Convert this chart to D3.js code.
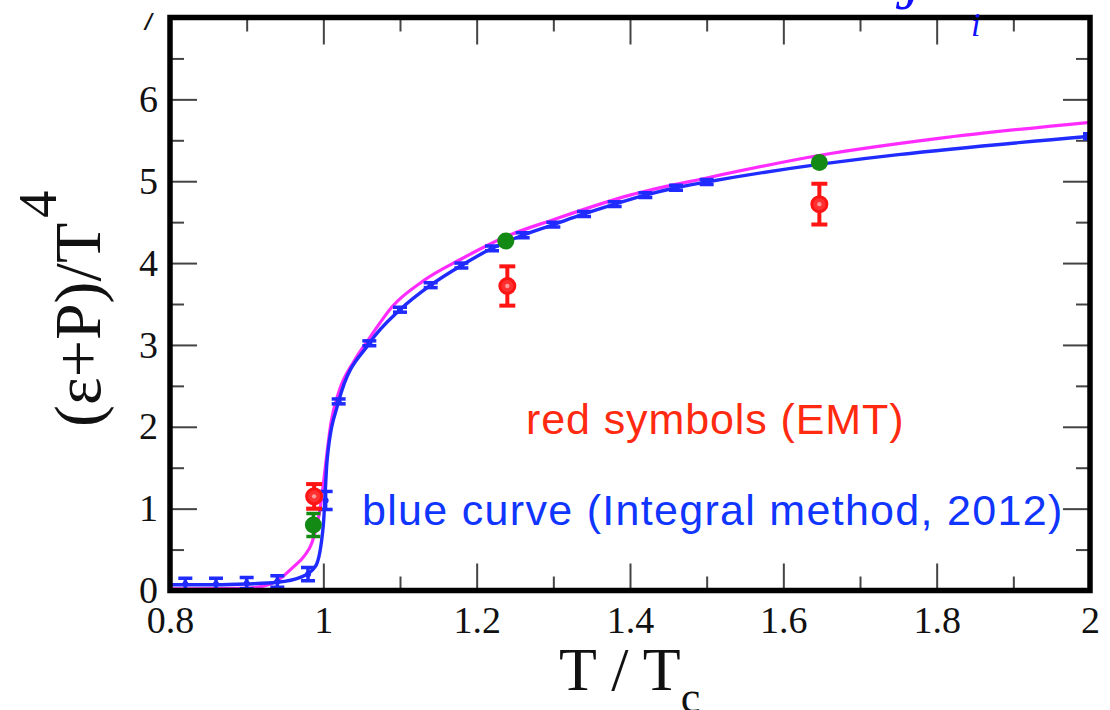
<!DOCTYPE html>
<html>
<head>
<meta charset="utf-8">
<script src="https://cdn.jsdelivr.net/npm/d3@7"></script>
<style>
  html, body { margin: 0; padding: 0; background: #fff; }
  svg { display: block; }
</style>
</head>
<body>
<script>
// --- data ---
// blue curve (Integral method, 2012) points with small error bars
var blueT   = [0.82, 0.86, 0.90, 0.94, 0.98, 1.003, 1.02, 1.06, 1.10, 1.14, 1.18, 1.22, 1.26, 1.30, 1.34, 1.38, 1.42, 1.46, 1.50, 2.00];
var blueVal = [0.08, 0.08, 0.09, 0.11, 0.20, 1.10, 2.31, 3.02, 3.43, 3.73, 3.97, 4.18, 4.34, 4.47, 4.60, 4.72, 4.83, 4.92, 4.99, 5.55];
var blueErr = [0.07, 0.07, 0.07, 0.07, 0.08, 0.11, 0.03, 0.03, 0.03, 0.03, 0.03, 0.03, 0.03, 0.03, 0.03, 0.03, 0.03, 0.03, 0.03, 0.03];
// line through the blue points
var blueLineT   = [0.80, 0.82, 0.86, 0.90, 0.94, 0.97, 0.99, 1.00, 1.005, 1.02, 1.06, 1.10, 1.14, 1.18, 1.22, 1.26, 1.30, 1.34, 1.38, 1.42, 1.46, 1.50, 2.00];
var blueLineVal = [0.07, 0.07, 0.07, 0.08, 0.10, 0.16, 0.30, 0.80, 1.60, 2.31, 3.02, 3.43, 3.73, 3.97, 4.18, 4.34, 4.47, 4.60, 4.72, 4.83, 4.92, 4.99, 5.55];
// magenta curve
var magT   = [0.80, 0.90, 0.92, 0.94, 0.96, 0.975, 0.985, 0.995, 1.000, 1.005, 1.010, 1.02, 1.04, 1.06, 1.09, 1.13, 1.18, 1.24, 1.30, 1.40, 1.50, 1.65, 1.80, 2.00];
var magVal = [0.02, 0.03, 0.05, 0.12, 0.28, 0.42, 0.58, 0.95, 1.30, 1.70, 2.05, 2.42, 2.80, 3.08, 3.47, 3.78, 4.05, 4.33, 4.53, 4.83, 5.04, 5.32, 5.52, 5.72];
// green symbols
var greenT   = [0.987, 1.238, 1.647];
var greenVal = [0.80, 4.27, 5.23];
var greenErr = [0.14, 0.03, 0.03];
// red symbols (EMT)
var redT   = [0.988, 1.240, 1.647];
var redVal = [1.15, 3.72, 4.72];
var redErr = [0.15, 0.24, 0.25];

var xMajor = [0.8, 1.0, 1.2, 1.4, 1.6, 1.8, 2.0];
var xMinor = [0.9, 1.1, 1.3, 1.5, 1.7, 1.9];
var xLabels = ["0.8", "1", "1.2", "1.4", "1.6", "1.8", "2"];
var yMajor = [0, 1, 2, 3, 4, 5, 6, 7];
var yMinor = [0.5, 1.5, 2.5, 3.5, 4.5, 5.5, 6.5];

var width = 1110, height = 710;
var plot = {left: 170, right: 1090, top: 17.5, bottom: 590.5};

var x = d3.scaleLinear().domain([0.8, 2.0]).range([plot.left, plot.right]);
var y = d3.scaleLinear().domain([0, 7]).range([plot.bottom, plot.top]);

var svg = d3.select("body").append("svg")
    .attr("width", width)
    .attr("height", height);

var serif = "'Liberation Serif', 'Times New Roman', serif";
var sans = "'Liberation Sans', Arial, Helvetica, sans-serif";

// the very top of the picture is cut off on the left side
svg.append("clipPath").attr("id", "topcut")
  .append("rect")
    .attr("x", 0).attr("y", 13)
    .attr("width", width).attr("height", height);

// ticks (inward on all four sides)
function styleAxis(g) {
  g.select(".domain").remove();
  g.selectAll(".tick line").attr("stroke", "#444").attr("stroke-width", 2);
  g.selectAll("text")
    .attr("fill", "#111")
    .style("font-family", serif)
    .style("font-size", "38px");
}

svg.append("g")
    .attr("transform", "translate(0," + plot.bottom + ")")
    .call(d3.axisBottom(x).tickValues(xMajor).tickSize(-27).tickPadding(16)
      .tickFormat(function(d, i) { return xLabels[i]; }))
    .call(styleAxis);
svg.append("g")
    .attr("transform", "translate(0," + plot.bottom + ")")
    .call(d3.axisBottom(x).tickValues(xMinor).tickSize(-14).tickFormat(""))
    .call(styleAxis);
svg.append("g")
    .attr("transform", "translate(0," + plot.top + ")")
    .call(d3.axisTop(x).tickValues(xMajor).tickSize(-27).tickFormat(""))
    .call(styleAxis);
svg.append("g")
    .attr("transform", "translate(0," + plot.top + ")")
    .call(d3.axisTop(x).tickValues(xMinor).tickSize(-14).tickFormat(""))
    .call(styleAxis);

svg.append("g")
    .attr("clip-path", "url(#topcut)")
  .append("g")
    .attr("transform", "translate(" + plot.left + ",0)")
    .call(d3.axisLeft(y).tickValues(yMajor).tickSize(-27).tickPadding(12)
      .tickFormat(d3.format("d")))
    .call(styleAxis);
svg.append("g")
    .attr("transform", "translate(" + plot.left + ",0)")
    .call(d3.axisLeft(y).tickValues(yMinor).tickSize(-14).tickFormat(""))
    .call(styleAxis);
svg.append("g")
    .attr("transform", "translate(" + plot.right + ",0)")
    .call(d3.axisRight(y).tickValues(yMajor).tickSize(-27).tickFormat(""))
    .call(styleAxis);
svg.append("g")
    .attr("transform", "translate(" + plot.right + ",0)")
    .call(d3.axisRight(y).tickValues(yMinor).tickSize(-14).tickFormat(""))
    .call(styleAxis);

// clip for the curves
svg.append("clipPath").attr("id", "plotclip")
  .append("rect")
    .attr("x", plot.left).attr("y", plot.top)
    .attr("width", plot.right - plot.left)
    .attr("height", plot.bottom - plot.top);

var data = svg.append("g").attr("clip-path", "url(#plotclip)");

var line = d3.line()
    .x(function(d) { return x(d[0]); })
    .y(function(d) { return y(d[1]); })
    .curve(d3.curveMonotoneX);

data.append("path")
    .datum(d3.zip(magT, magVal))
    .attr("fill", "none")
    .attr("stroke", "#ff2bff")
    .attr("stroke-width", 3.2)
    .attr("d", line);

data.append("path")
    .datum(d3.zip(blueLineT, blueLineVal))
    .attr("fill", "none")
    .attr("stroke", "#1f2bff")
    .attr("stroke-width", 3.4)
    .attr("d", line);

function errorBars(g, ts, vs, es, color, capW, sw) {
  var pts = d3.range(ts.length).map(function(i) { return {t: ts[i], v: vs[i], e: es[i]}; });
  var eb = g.selectAll(null).data(pts).enter().append("g");
  eb.append("line")
    .attr("x1", function(d) { return x(d.t); })
    .attr("x2", function(d) { return x(d.t); })
    .attr("y1", function(d) { return y(d.v - d.e); })
    .attr("y2", function(d) { return y(d.v + d.e); })
    .attr("stroke", color).attr("stroke-width", sw);
  [-1, 1].forEach(function(s) {
    eb.append("line")
      .attr("x1", function(d) { return x(d.t) - capW / 2; })
      .attr("x2", function(d) { return x(d.t) + capW / 2; })
      .attr("y1", function(d) { return y(d.v + s * d.e); })
      .attr("y2", function(d) { return y(d.v + s * d.e); })
      .attr("stroke", color).attr("stroke-width", sw);
  });
  return eb;
}

// blue points
var bp = errorBars(data, blueT, blueVal, blueErr, "#1f2bff", 14, 3.5);
bp.append("circle")
    .attr("cx", function(d) { return x(d.t); })
    .attr("cy", function(d) { return y(d.v); })
    .attr("r", 3)
    .attr("fill", "#1f2bff");

// green points
var gp = errorBars(data, greenT, greenVal, greenErr, "#138a13", 14, 3.5);
gp.append("circle")
    .attr("cx", function(d) { return x(d.t); })
    .attr("cy", function(d) { return y(d.v); })
    .attr("r", 8.5)
    .attr("fill", "#138a13");

// red points
var rp = errorBars(data, redT, redVal, redErr, "#ff1414", 16, 4);
rp.append("circle")
    .attr("cx", function(d) { return x(d.t); })
    .attr("cy", function(d) { return y(d.v); })
    .attr("r", 7.5)
    .attr("fill", "#ff3030")
    .attr("stroke", "#ff1414")
    .attr("stroke-width", 3);
rp.append("circle")
    .attr("cx", function(d) { return x(d.t); })
    .attr("cy", function(d) { return y(d.v); })
    .attr("r", 2.2)
    .attr("fill", "#ff9a9a");

// frame
svg.append("rect")
    .attr("x", plot.left).attr("y", plot.top)
    .attr("width", plot.right - plot.left)
    .attr("height", plot.bottom - plot.top)
    .attr("fill", "none")
    .attr("stroke", "#000")
    .attr("stroke-width", 5.5);

// annotations
svg.append("text")
    .attr("x", 526).attr("y", 434)
    .attr("fill", "#ff2a10")
    .style("font-family", sans)
    .style("font-size", "43px")
    .style("letter-spacing", "0.9px")
    .text("red symbols (EMT)");
svg.append("text")
    .attr("x", 362).attr("y", 525)
    .attr("fill", "#0f35ff")
    .style("font-family", sans)
    .style("font-size", "43px")
    .style("letter-spacing", "1.3px")
    .text("blue curve (Integral method, 2012)");

// cut-off formula at the top edge
svg.append("text")
    .attr("x", 895).attr("y", 9)
    .attr("fill", "#1010ff")
    .style("font-family", serif)
    .style("font-style", "italic")
    .style("font-size", "58px")
    .text("J");
svg.append("text")
    .attr("x", 971).attr("y", 36)
    .attr("fill", "#1010ff")
    .style("font-family", serif)
    .style("font-style", "italic")
    .style("font-size", "34px")
    .text("i");

// axis titles
var xt = svg.append("text")
    .attr("x", 559).attr("y", 690)
    .attr("fill", "#111")
    .style("font-family", serif)
    .style("font-size", "62px");
xt.append("tspan").text("T / T");
xt.append("tspan").attr("dy", 22).style("font-size", "44px").text("c");

var yt = svg.append("text")
    .attr("transform", "translate(100,427) rotate(-90)")
    .attr("fill", "#111")
    .style("font-family", serif)
    .style("font-size", "66px");
yt.append("tspan").text("(\u03b5+P)/T");
yt.append("tspan").attr("dy", -44).attr("dx", 5).style("font-size", "54px").text("4");
</script>
</body>
</html>
